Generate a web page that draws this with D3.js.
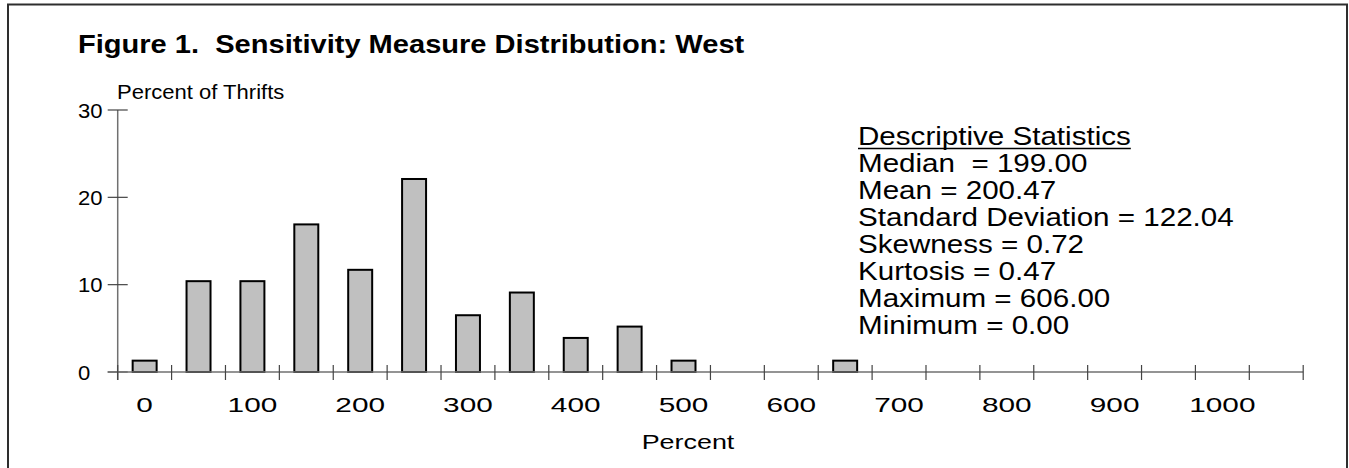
<!DOCTYPE html>
<html>
<head>
<meta charset="utf-8">
<script src="https://cdn.jsdelivr.net/npm/d3@7"></script>
<style>
  body { margin: 0; background: #fff; }
  text { font-family: "Liberation Sans", Arial, sans-serif; fill: #000; white-space: pre; }
</style>
</head>
<body>
<svg></svg>
<script>
// bins of 50 points each, labelled by their upper bound
var categories = ["0", "50", "100", "150", "200", "250", "300", "350", "400", "450", "500",
                  "550", "600", "650", "700", "750", "800", "850", "900", "950", "1000", "1050"];
var values = [1.3, 10.4, 10.4, 16.9, 11.7, 22.1, 6.5, 9.1, 3.9, 5.2, 1.3,
              0, 0, 1.3, 0, 0, 0, 0, 0, 0, 0, 0];
var xTickLabels = ["0", "100", "200", "300", "400", "500", "600", "700", "800", "900", "1000"];
var yTicks = [0, 10, 20, 30];
var statsTitle = "Descriptive Statistics";
var statsLines = ["Median  = 199.00", "Mean = 200.47", "Standard Deviation = 122.04",
                  "Skewness = 0.72", "Kurtosis = 0.47", "Maximum = 606.00", "Minimum = 0.00"];

var width = 1349, height = 468;
var margin = {top: 110, right: 45.8, bottom: 96, left: 117.7};

var svg = d3.select("svg")
    .attr("width", width)
    .attr("height", height);

// outer frame (bottom edge runs off the picture)
svg.append("rect")
    .attr("x", 8).attr("y", 4.5)
    .attr("width", 1339).attr("height", 480)
    .attr("fill", "none")
    .attr("stroke", "#2e2e2e")
    .attr("stroke-width", 2);

var x = d3.scaleBand()
    .domain(categories)
    .range([margin.left, width - margin.right])
    .paddingInner(0.555)
    .paddingOuter(0.2775);

var y = d3.scaleLinear()
    .domain([0, 30])
    .range([height - margin.bottom, margin.top]);

var step = x.step();
var x0 = margin.left;

// text with a horizontal stretch, the source figure is wider than tall
function stretched(g, px, py, str, size, sx, anchor, weight) {
  return g.append("text")
      .attr("transform", "translate(" + px + "," + py + ") scale(" + sx + ",1)")
      .attr("font-size", size)
      .attr("font-weight", weight || "normal")
      .attr("text-anchor", anchor || "start")
      .text(str);
}

// bars
svg.append("g").selectAll("rect")
    .data(values.map(function(v, i) { return {cat: categories[i], value: v}; })
                .filter(function(d) { return d.value > 0; }))
  .enter().append("rect")
    .attr("x", function(d) { return x(d.cat); })
    .attr("y", function(d) { return y(d.value); })
    .attr("width", x.bandwidth())
    .attr("height", function(d) { return y(0) - y(d.value); })
    .attr("fill", "#c0c0c0")
    .attr("stroke", "#000")
    .attr("stroke-width", 2);

var axisColor = "#707070";

// y axis
var yAxis = svg.append("g");
yAxis.append("line")
    .attr("x1", x0).attr("x2", x0)
    .attr("y1", y(30)).attr("y2", y(0) + 8)
    .attr("stroke", axisColor).attr("stroke-width", 1.5);
yAxis.selectAll(".ytick")
    .data(yTicks)
  .enter().append("line")
    .attr("x1", x0 - 10).attr("x2", x0 + 10)
    .attr("y1", function(d) { return y(d); })
    .attr("y2", function(d) { return y(d); })
    .attr("stroke", "#444").attr("stroke-width", 1.2);
yTicks.forEach(function(t) {
  stretched(yAxis, 78, y(t) + 7.5, String(t), 21, 1.05);
});

// x axis
var xAxis = svg.append("g");
xAxis.append("line")
    .attr("x1", x0 - 10).attr("x2", x0 + step * categories.length)
    .attr("y1", y(0)).attr("y2", y(0))
    .attr("stroke", axisColor).attr("stroke-width", 1.5);
xAxis.selectAll(".xtick")
    .data(d3.range(categories.length + 1))
  .enter().append("line")
    .attr("x1", function(i) { return x0 + i * step; })
    .attr("x2", function(i) { return x0 + i * step; })
    .attr("y1", y(0) - 7).attr("y2", y(0) + 8)
    .attr("stroke", "#444").attr("stroke-width", 1.2);
xTickLabels.forEach(function(lbl) {
  stretched(xAxis, x(lbl) + x.bandwidth() / 2, y(0) + 40, lbl, 21, 1.42, "middle");
});

// axis titles
stretched(svg, 688, 449, "Percent", 19.5, 1.38, "middle");
stretched(svg, 117, 99, "Percent of Thrifts", 19.5, 1.13);

// figure title
stretched(svg, 78, 53, "Figure 1.  Sensitivity Measure Distribution: West", 25.5, 1.14, "start", "bold");

// statistics block
var sxStats = 1.16;
var stats = svg.append("g");
var head = stretched(stats, 858, 145, statsTitle, 25.5, sxStats);
stats.append("line")
    .attr("x1", 858).attr("x2", 858 + head.node().getBBox().width * sxStats)
    .attr("y1", 148.5).attr("y2", 148.5)
    .attr("stroke", "#000").attr("stroke-width", 1.5);
statsLines.forEach(function(s, i) {
  stretched(stats, 858, 145 + (i + 1) * 27, s, 25.5, sxStats);
});
</script>
</body>
</html>
